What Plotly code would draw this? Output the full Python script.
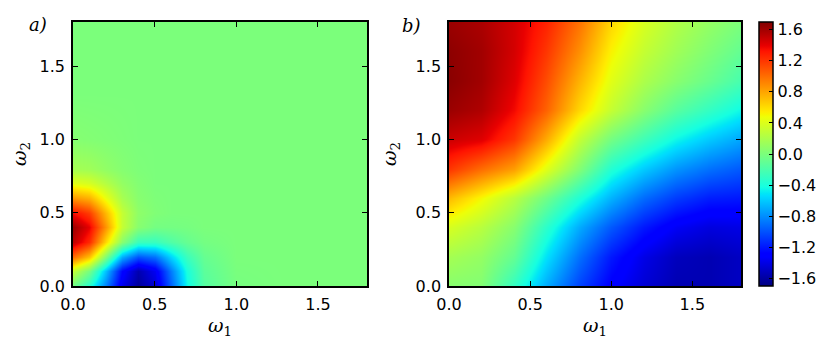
import plotly.graph_objects as go

# ---- panel a) grid (omega1 columns, omega2 rows)
a_w1 = [0, 0.1, 0.2, 0.3, 0.4, 0.5, 0.6, 0.7, 0.8, 1.0, 1.3, 1.8]
a_w2 = [0, 0.1, 0.2, 0.3, 0.4, 0.5, 0.6, 0.7, 0.8, 1.0, 1.3, 1.8]
a_z = [
    [-0.05, -0.35, -0.85, -1.38, -1.62, -1.45, -0.95, -0.45, -0.16, -0.02, 0, 0],
    [0.30, -0.02, -0.64, -1.27, -1.56, -1.36, -0.86, -0.40, -0.13, -0.01, 0, 0],
    [1.00, 0.70, 0.00, -0.70, -1.00, -0.90, -0.57, -0.27, -0.09, 0, 0, 0],
    [1.52, 1.25, 0.60, 0.05, -0.27, -0.28, -0.18, -0.09, -0.03, 0, 0, 0],
    [1.62, 1.40, 0.85, 0.30, 0.05, -0.03, -0.03, -0.02, 0, 0, 0, 0],
    [1.35, 1.18, 0.72, 0.30, 0.08, 0.02, 0, 0, 0, 0, 0, 0],
    [0.85, 0.76, 0.45, 0.18, 0.05, 0.01, 0, 0, 0, 0, 0, 0],
    [0.42, 0.37, 0.23, 0.10, 0.03, 0, 0, 0, 0, 0, 0, 0],
    [0.17, 0.15, 0.09, 0.04, 0.01, 0, 0, 0, 0, 0, 0, 0],
    [0.04, 0.03, 0.02, 0.01, 0, 0, 0, 0, 0, 0, 0, 0],
    [0, 0, 0, 0, 0, 0, 0, 0, 0, 0, 0, 0],
    [0, 0, 0, 0, 0, 0, 0, 0, 0, 0, 0, 0],
]

# ---- panel b) grid
b_w1 = [0, 0.2, 0.4, 0.6, 0.8, 1.0, 1.2, 1.4, 1.6, 1.8]
b_w2 = [0, 0.2, 0.4, 0.6, 0.8, 1.0, 1.2, 1.4, 1.6, 1.8]
b_z = [
    [0.05, 0.03, -0.30, -0.70, -1.05, -1.30, -1.45, -1.55, -1.55, -1.50],
    [0.17, 0.10, -0.10, -0.52, -0.90, -1.20, -1.40, -1.52, -1.55, -1.50],
    [0.38, 0.25, 0.05, -0.33, -0.70, -0.98, -1.20, -1.35, -1.42, -1.40],
    [0.72, 0.50, 0.25, -0.05, -0.38, -0.68, -0.92, -1.08, -1.18, -1.20],
    [1.20, 1.00, 0.82, 0.42, 0.03, -0.37, -0.60, -0.78, -0.90, -0.98],
    [1.48, 1.42, 1.20, 0.78, 0.30, -0.03, -0.25, -0.45, -0.60, -0.72],
    [1.62, 1.56, 1.36, 1.04, 0.62, 0.30, 0.05, -0.15, -0.30, -0.45],
    [1.67, 1.60, 1.42, 1.12, 0.75, 0.42, 0.20, 0.05, -0.08, -0.22],
    [1.66, 1.60, 1.45, 1.20, 0.88, 0.52, 0.30, 0.15, 0.02, -0.10],
    [1.62, 1.57, 1.45, 1.27, 0.98, 0.62, 0.38, 0.22, 0.10, 0.00],
]

axis_ticks = [0.0, 0.5, 1.0, 1.5]
cbar_ticks = [-1.6, -1.2, -0.8, -0.4, 0.0, 0.4, 0.8, 1.2, 1.6]

# matplotlib-style jet
jet = [
    [0.0, "rgb(0,0,128)"],
    [0.11, "rgb(0,0,255)"],
    [0.125, "rgb(0,0,255)"],
    [0.34, "rgb(0,219,255)"],
    [0.35, "rgb(0,230,247)"],
    [0.375, "rgb(21,255,226)"],
    [0.64, "rgb(238,255,8)"],
    [0.65, "rgb(247,246,0)"],
    [0.66, "rgb(255,236,0)"],
    [0.89, "rgb(255,19,0)"],
    [0.91, "rgb(232,0,0)"],
    [1.0, "rgb(128,0,0)"],
]

ZMIN, ZMAX = -1.7, 1.7
FONT = "DejaVu Sans"

fig = go.Figure()
fig.add_trace(go.Heatmap(
    x=a_w1, y=a_w2, z=a_z, colorscale=jet, zmin=ZMIN, zmax=ZMAX,
    zsmooth="best", showscale=False, xaxis="x", yaxis="y",
))
fig.add_trace(go.Heatmap(
    x=b_w1, y=b_w2, z=b_z, colorscale=jet, zmin=ZMIN, zmax=ZMAX,
    zsmooth="best", xaxis="x2", yaxis="y2",
    colorbar=dict(
        x=1.027, xanchor="left", xref="paper", xpad=0, y=0.5, yanchor="middle",
        len=1.0, lenmode="fraction", thickness=14, ypad=0,
        outlinewidth=1.5, outlinecolor="black",
        tickvals=cbar_ticks, tickformat=".1f",
        ticks="inside", ticklen=4, tickcolor="black",
        tickfont=dict(family=FONT, size=16, color="black"),
    ),
))

ax_common = dict(
    range=[0, 1.8], tickvals=axis_ticks, tickformat=".1f",
    ticks="inside", ticklen=5, tickcolor="black",
    showline=True, linecolor="black", linewidth=1.5, mirror="ticks",
    showgrid=False, zeroline=False, automargin=False,
    ticklabelstandoff=3,
    tickfont=dict(family=FONT, size=16, color="black"),
)
title_font = dict(family="DejaVu Serif", size=19, color="black")

# page body adds 8px around the figure, so the figure is 16px smaller than the window
fig.update_layout(
    width=814, height=340,
    margin=dict(l=65, r=81, t=14, b=62, autoexpand=False),
    paper_bgcolor="white", plot_bgcolor="white",
    xaxis=dict(domain=[0, 0.4401], anchor="y",
               title=dict(text="<i>ω</i><sub>1</sub>", font=title_font, standoff=4), **ax_common),
    yaxis=dict(domain=[0, 1], anchor="x",
               title=dict(text="<i>ω</i><sub>2</sub>", font=title_font, standoff=14), **ax_common),
    xaxis2=dict(domain=[0.5629, 1], anchor="y2",
                title=dict(text="<i>ω</i><sub>1</sub>", font=title_font, standoff=4), **ax_common),
    yaxis2=dict(domain=[0, 1], anchor="x2",
                title=dict(text="<i>ω</i><sub>2</sub>", font=title_font, standoff=14), **ax_common),
    annotations=[
        dict(text="<i>a)</i>", xref="paper", yref="paper", x=-0.036, y=0.99,
             xanchor="right", yanchor="middle", showarrow=False,
             font=dict(family="DejaVu Serif", size=18, color="black")),
        dict(text="<i>b)</i>", xref="paper", yref="paper", x=0.524, y=0.985,
             xanchor="right", yanchor="middle", showarrow=False,
             font=dict(family="DejaVu Serif", size=18, color="black")),
    ],
)

fig.write_html("out.html")
